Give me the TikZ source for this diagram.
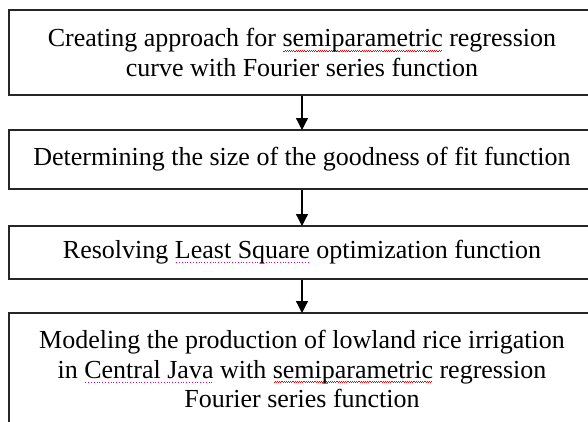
\documentclass[tikz,border=0pt]{standalone}
\usepackage{fontspec}
\setmainfont{Liberation Serif}
\usetikzlibrary{arrows.meta}

% spell-check style marks under a word: red wave and magenta dots
\newcommand\spellwave[1]{\setbox0\hbox{#1}\rlap{\hbox to\wd0{\color{red}\cleaders\hbox{\rule[-5pt]{1.1pt}{0.8pt}\rule[-3.9pt]{1.1pt}{0.8pt}}\hfill}}\box0\relax}
\newcommand\grammardots[1]{\setbox0\hbox{#1}\rlap{\hbox to\wd0{\color{magenta}\cleaders\hbox{\kern0.9pt\rule[-4.5pt]{1pt}{1pt}\kern0.9pt}\hfill}}\box0\relax}

\tikzset{
  x=1pt, y=-1pt,
  stepbox/.style={draw=black!85, line width=1.2pt, minimum width=586pt,
    align=center, inner sep=0pt, font=\fontsize{26}{29.5}\selectfont},
  flow/.style={draw=black, line width=1.2pt,
    -{Triangle[width=12pt,length=12pt]}, shorten >=-0.6pt}
}

\begin{document}
\begin{tikzpicture}
\useasboundingbox (0,0) rectangle (588,421);
\fill[white] (0,0) rectangle (588,421);
\clip (0,0) rectangle (588,421);

\node[stepbox, minimum height=85pt] (b1) at (302,52.5)
  {Creating approach for \spellwave{semiparametric} regression\\curve with Fourier series function};
\node[stepbox, minimum height=59pt] (b2) at (302,159.5)
  {Determining the size of the goodness of fit function};
\node[stepbox, minimum height=53pt] (b3) at (302,252.5)
  {Resolving \grammardots{Least Square} optimization function};
\node[stepbox, minimum height=112pt] (b4) at (302,369)
  {Modeling the production of lowland rice irrigation\\in \grammardots{Central Java} with \spellwave{semiparametric} regression\\Fourier series function};

\draw[flow] (b1.south) -- (b2.north);
\draw[flow] (b2.south) -- (b3.north);
\draw[flow] (b3.south) -- (b4.north);
\end{tikzpicture}
\end{document}
